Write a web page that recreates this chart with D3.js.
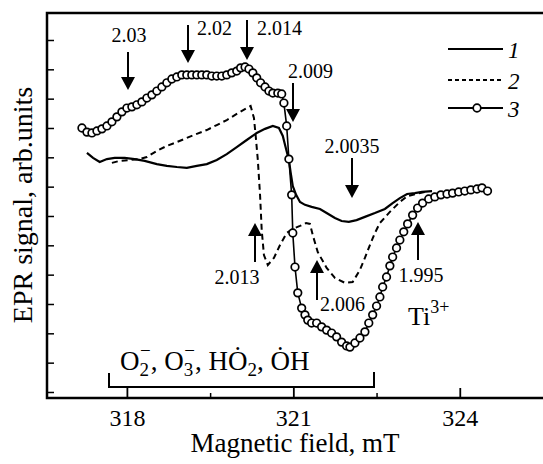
<!DOCTYPE html>
<html>
<head>
<meta charset="utf-8">
<script src="https://cdn.jsdelivr.net/npm/d3@7"></script>
<style>
  body { margin: 0; background: #fff; }
  svg text { font-family: "Liberation Serif", "Times New Roman", serif; fill: #000; }
</style>
</head>
<body>
<svg id="chart" width="543" height="464"></svg>
<script>
// spectra: [field mT, signal arb.units]
const curve1 = [
  [317.28, 8.15], [317.39, 7.98], [317.51, 7.84], [317.64, 7.94], [317.78, 7.98], [317.96, 7.98],
  [318.14, 7.94], [318.32, 7.88], [318.54, 7.77], [318.72, 7.71], [318.90, 7.67], [319.08, 7.64],
  [319.26, 7.71], [319.44, 7.77], [319.62, 7.91], [319.80, 8.11], [319.98, 8.35], [320.16, 8.59],
  [320.34, 8.83], [320.49, 8.97], [320.63, 9.07], [320.74, 9.00], [320.81, 8.73], [320.86, 8.35],
  [320.92, 7.91], [320.95, 7.50], [320.99, 7.02], [321.05, 6.72], [321.12, 6.48], [321.21, 6.38],
  [321.33, 6.31], [321.48, 6.24], [321.60, 6.10], [321.75, 5.93], [321.87, 5.83], [322.00, 5.80],
  [322.14, 5.86], [322.29, 5.97], [322.47, 6.10], [322.65, 6.24], [322.79, 6.44], [322.92, 6.61],
  [323.05, 6.75], [323.19, 6.78], [323.32, 6.82], [323.50, 6.85]
]

const curve2 = [
  [317.73, 7.81], [317.87, 7.88], [318.05, 7.91], [318.23, 7.94], [318.36, 8.01], [318.54, 8.22],
  [318.72, 8.39], [318.90, 8.52], [319.08, 8.66], [319.26, 8.80], [319.44, 8.93], [319.62, 9.10],
  [319.80, 9.27], [319.98, 9.48], [320.16, 9.68], [320.23, 9.75], [320.29, 9.34], [320.32, 8.76],
  [320.36, 7.91], [320.40, 6.72], [320.43, 5.52], [320.47, 4.67], [320.54, 4.33], [320.65, 4.57],
  [320.76, 5.01], [320.88, 5.42], [320.99, 5.56], [321.12, 5.66], [321.23, 5.76], [321.30, 5.73],
  [321.35, 5.35], [321.44, 4.77], [321.60, 4.23], [321.75, 3.89], [321.93, 3.72], [322.07, 3.75],
  [322.20, 4.16], [322.29, 4.57], [322.38, 5.01], [322.47, 5.42], [322.56, 5.76], [322.74, 6.14],
  [322.92, 6.48], [323.06, 6.68], [323.21, 6.75], [323.37, 6.82]
]

const curve3 = [
  [317.19, 9.00], [317.28, 8.86], [317.37, 8.83], [317.46, 8.90], [317.55, 8.97], [317.64, 9.07],
  [317.73, 9.21], [317.82, 9.38], [317.91, 9.55], [318.00, 9.68], [318.09, 9.72], [318.18, 9.79],
  [318.27, 9.89], [318.36, 10.02], [318.45, 10.13], [318.54, 10.26], [318.63, 10.40], [318.72, 10.54],
  [318.81, 10.67], [318.90, 10.74], [318.99, 10.81], [319.08, 10.81], [319.17, 10.81], [319.26, 10.81],
  [319.35, 10.81], [319.44, 10.81], [319.53, 10.77], [319.62, 10.77], [319.71, 10.77], [319.80, 10.81],
  [319.89, 10.88], [319.98, 10.94], [320.05, 11.05], [320.13, 11.08], [320.20, 11.01], [320.27, 10.88],
  [320.34, 10.71], [320.41, 10.54], [320.49, 10.40], [320.56, 10.26], [320.63, 10.19], [320.72, 10.19],
  [320.79, 10.16], [320.83, 9.85], [320.88, 9.07], [320.92, 7.94], [320.97, 6.72], [320.99, 5.42],
  [321.03, 4.26], [321.08, 3.38], [321.15, 2.86], [321.21, 2.63], [321.26, 2.45], [321.33, 2.35],
  [321.42, 2.35], [321.51, 2.22], [321.60, 2.11], [321.69, 2.01], [321.78, 1.88], [321.87, 1.70],
  [321.96, 1.57], [322.02, 1.53], [322.11, 1.67], [322.20, 1.84], [322.29, 2.05], [322.36, 2.35],
  [322.43, 2.63], [322.50, 2.93], [322.56, 3.24], [322.61, 3.58], [322.68, 3.92], [322.74, 4.30],
  [322.79, 4.60], [322.86, 4.91], [322.92, 5.18], [322.99, 5.46], [323.06, 5.73], [323.15, 6.03],
  [323.24, 6.27], [323.33, 6.44], [323.44, 6.58], [323.55, 6.65], [323.66, 6.72], [323.77, 6.75],
  [323.87, 6.78], [323.98, 6.82], [324.09, 6.85], [324.20, 6.89], [324.31, 6.92], [324.40, 6.96],
  [324.50, 6.85]
]

const majorTicks = [318, 321, 324]
const minorTicks = [319.5, 322.5]
const yTicks = [0, 1, 2, 3, 4, 5, 6, 7, 8, 9, 10, 11, 12]
const legendLabels = ['1', '2', '3']

// g-factor markers (pixel layout); arrow runs y0 -> y1 (tip)
const gMarks = [
  { label: '2.03',   ax: 128, y0: 52,  y1: 90,  tx: 129, ty: 42,  anchor: 'middle' },
  { label: '2.02',   ax: 188, y0: 25,  y1: 63,  tx: 197, ty: 35,  anchor: 'start' },
  { label: '2.014',  ax: 247, y0: 20,  y1: 60,  tx: 257, ty: 35,  anchor: 'start' },
  { label: '2.009',  ax: 293, y0: 83,  y1: 122, tx: 288, ty: 78,  anchor: 'start' },
  { label: '2.0035', ax: 352, y0: 158, y1: 198, tx: 352, ty: 153, anchor: 'middle' },
  { label: '2.013',  ax: 255, y0: 262, y1: 223, tx: 237, ty: 284, anchor: 'middle' },
  { label: '2.006',  ax: 317, y0: 300, y1: 260, tx: 320, ty: 311, anchor: 'start' },
  { label: '1.995',  ax: 418, y0: 260, y1: 222, tx: 421, ty: 282, anchor: 'middle' }
]

const margin = { top: 13, left: 47 }
const width = 496, height = 385

const svg = d3.select('#chart')
const g = svg.append('g').attr('transform', `translate(${margin.left},${margin.top})`)

const x = d3.scaleLinear().domain([316.56, 325.5]).range([0, width])
const y = d3.scaleLinear().domain([-0.205, 12.92]).range([height, 0])

// axes, ticks pointing inward
const xAxis = g.append('g').attr('transform', `translate(0,${height})`)
  .call(d3.axisBottom(x).tickValues(majorTicks).tickSizeInner(-10).tickSizeOuter(0).tickPadding(11).tickFormat(d3.format('d')))
xAxis.select('.domain').remove()
xAxis.selectAll('line').attr('stroke-width', 1.8)
xAxis.selectAll('text').style('font-size', '24px').style('font-family', '"Liberation Serif", serif')

const xMinor = g.append('g').attr('transform', `translate(0,${height})`)
  .call(d3.axisBottom(x).tickValues(minorTicks).tickSizeInner(-5).tickSizeOuter(0).tickFormat(''))
xMinor.select('.domain').remove()
xMinor.selectAll('line').attr('stroke-width', 1.5)

const yAxis = g.append('g')
  .call(d3.axisLeft(y).tickValues(yTicks).tickSizeInner(-7).tickSizeOuter(0).tickFormat(''))
yAxis.select('.domain').remove()
yAxis.selectAll('line').attr('stroke-width', 1.5)

// frame (open on the right)
g.append('path')
  .attr('d', `M${width + 2},0H0V${height}H${width + 2}`)
  .attr('fill', 'none').attr('stroke', '#000').attr('stroke-width', 2.5)

const line = d3.line().x(d => x(d[0])).y(d => y(d[1])).curve(d3.curveLinear)

g.append('path').datum(curve1).attr('d', line)
  .attr('fill', 'none').attr('stroke', '#000').attr('stroke-width', 2.2)

g.append('path').datum(curve2).attr('d', line)
  .attr('fill', 'none').attr('stroke', '#000').attr('stroke-width', 2).attr('stroke-dasharray', '6,4')

g.append('path').datum(curve3).attr('d', line)
  .attr('fill', 'none').attr('stroke', '#000').attr('stroke-width', 1.6)

g.selectAll('circle.c3').data(curve3).enter().append('circle')
  .attr('class', 'c3')
  .attr('cx', d => x(d[0])).attr('cy', d => y(d[1])).attr('r', 3.8)
  .attr('fill', '#fff').attr('stroke', '#000').attr('stroke-width', 1.7)

// arrows + g labels
const ann = svg.append('g')
gMarks.forEach(m => {
  const dir = m.y1 > m.y0 ? 1 : -1
  const headLen = 13, headW = 7
  ann.append('line')
    .attr('x1', m.ax).attr('x2', m.ax).attr('y1', m.y0).attr('y2', m.y1 - dir * headLen)
    .attr('stroke', '#000').attr('stroke-width', 2)
  ann.append('path')
    .attr('d', `M${m.ax},${m.y1}L${m.ax - headW},${m.y1 - dir * headLen}L${m.ax + headW},${m.y1 - dir * headLen}Z`)
    .attr('fill', '#000')
  ann.append('text').attr('x', m.tx).attr('y', m.ty)
    .attr('text-anchor', m.anchor).style('font-size', '20px').text(m.label)
})

// Ti3+
const ti = svg.append('text').attr('x', 408).attr('y', 325).style('font-size', '26px')
ti.append('tspan').text('Ti')
ti.append('tspan').attr('dy', -12).style('font-size', '18px').text('3+')

// radicals bracket
svg.append('path')
  .attr('d', `M109,373V387H374V372`)
  .attr('fill', 'none').attr('stroke', '#000').attr('stroke-width', 2)

const rad = svg.append('text').attr('x', 120).attr('y', 370).style('font-size', '27px')
rad.append('tspan').text('O')
rad.append('tspan').attr('dy', 6).style('font-size', '19px').text('2')
rad.append('tspan').attr('dx', -9).attr('dy', -19).style('font-size', '19px').text('\u2212')
rad.append('tspan').attr('dy', 13).text(', O')
rad.append('tspan').attr('dy', 6).style('font-size', '19px').text('3')
rad.append('tspan').attr('dx', -9).attr('dy', -19).style('font-size', '19px').text('\u2212')
rad.append('tspan').attr('dy', 13).text(', H\u022E')
rad.append('tspan').attr('dy', 6).style('font-size', '19px').text('2')
rad.append('tspan').attr('dy', -6).text(', \u022EH')

// legend
const legend = svg.append('g')
legendLabels.forEach((lab, i) => {
  const ly = [49, 80, 108][i]
  const ln = legend.append('line').attr('x1', 448).attr('x2', 503).attr('y1', ly).attr('y2', ly)
    .attr('stroke', '#000').attr('stroke-width', i === 1 ? 2 : 2.2)
  if (i === 1) ln.attr('stroke-dasharray', '4,3')
  if (i === 2) legend.append('circle').attr('cx', 477).attr('cy', ly).attr('r', 3.8)
    .attr('fill', '#fff').attr('stroke', '#000').attr('stroke-width', 1.7)
  legend.append('text').attr('x', 508).attr('y', ly + 9)
    .style('font-size', '23px').style('font-style', 'italic').text(lab)
})

// axis titles
svg.append('text').attr('x', 295).attr('y', 452).attr('text-anchor', 'middle')
  .style('font-size', '27px').text('Magnetic field, mT')
svg.append('text').attr('transform', 'translate(32,205) rotate(-90)').attr('text-anchor', 'middle')
  .style('font-size', '28px').text('EPR signal, arb.units')
</script>
</body>
</html>
